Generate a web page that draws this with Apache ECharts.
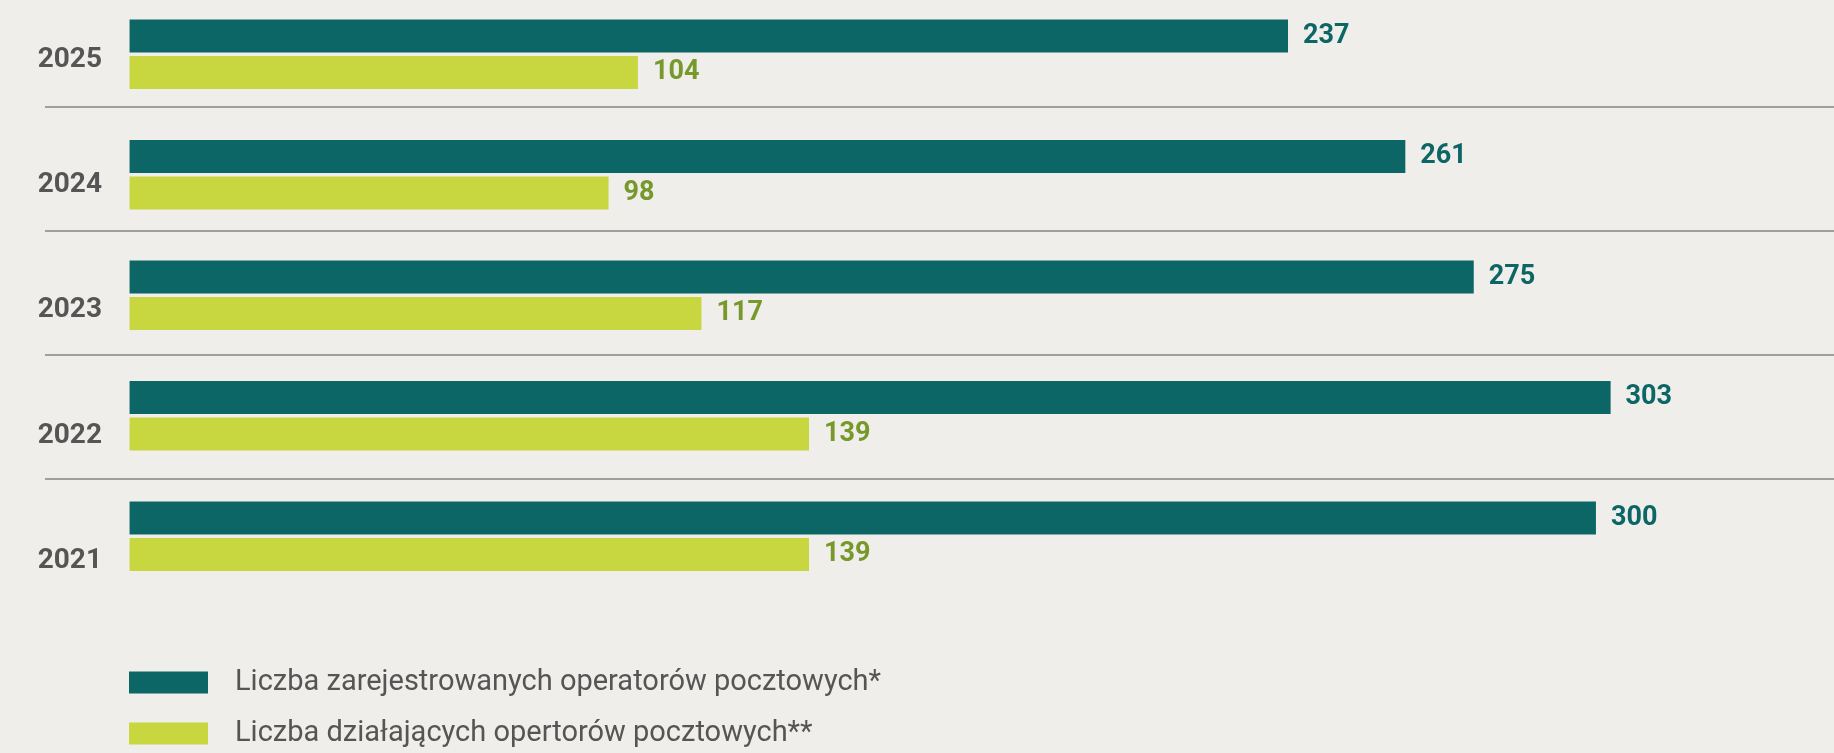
<!DOCTYPE html>
<html>
<head>
<meta charset="utf-8">
<script src="https://cdn.jsdelivr.net/npm/echarts@6/dist/echarts.min.js"></script>
<style>
  html, body { margin: 0; padding: 0; background: #f0eeea; }
  #chart { width: 1834px; height: 753px; }
</style>
</head>
<body>
<div id="chart"></div>
<script>
// dane z wykresu
var lata = ['2025', '2024', '2023', '2022', '2021'];
var zarejestrowani = [237, 261, 275, 303, 300];
var dzialajacy = [104, 98, 117, 139, 139];
var nazwy = ['Liczba zarejestrowanych operatorów pocztowych*', 'Liczba działających opertorów pocztowych**'];

var TEAL = '#0c6666';
var LIME = '#c8d640';
var FONT = 'Roboto, "Noto Sans", sans-serif';

var myChart = echarts.init(document.getElementById('chart'));

var option = {
    backgroundColor: '#f0eeea',
    animation: false,
    legend: {
        orient: 'vertical',
        left: 129,
        top: 668,
        height: 120,
        padding: 0,
        itemWidth: 79,
        itemHeight: 22,
        itemGap: 22,
        icon: 'rect',
        textStyle: {
            fontFamily: FONT,
            fontSize: 29,
            color: '#555555',
            lineHeight: 22,
            padding: [0, 0, 0, 22]
        },
        data: nazwy
    },
    grid: [
        // slupki
        { left: 45, right: 0, top: -6, height: 602.5, outerBoundsMode: 'none' },
        // etykiety lat
        { left: 102, width: 10, top: -3, height: 626.5, outerBoundsMode: 'none' },
        // linie oddzielajace
        { left: 45, right: 0, top: -17.3, height: 620, outerBoundsMode: 'none' }
    ],
    xAxis: [
        { gridIndex: 0, type: 'value', min: -17.3, max: 348.7, show: false },
        { gridIndex: 1, type: 'value', show: false },
        { gridIndex: 2, type: 'value', show: false }
    ],
    yAxis: [
        {
            gridIndex: 0, type: 'category', inverse: true, data: lata,
            axisLine: { show: false }, axisTick: { show: false },
            axisLabel: { show: false }, splitLine: { show: false }
        },
        {
            gridIndex: 1, type: 'category', inverse: true, data: lata,
            axisLine: { show: false }, axisTick: { show: false },
            splitLine: { show: false },
            axisLabel: {
                margin: 0,
                fontFamily: FONT,
                fontSize: 28,
                fontWeight: 'bold',
                color: '#555555'
            }
        },
        {
            gridIndex: 2, type: 'value', min: 0, max: 5, interval: 1,
            axisLine: { show: false }, axisTick: { show: false },
            axisLabel: { show: false },
            splitLine: {
                show: true,
                lineStyle: {
                    width: 2,
                    color: ['rgba(0,0,0,0)', '#a09f9c', '#a09f9c', '#a09f9c', '#a09f9c', 'rgba(0,0,0,0)']
                }
            }
        }
    ],
    series: [
        {
            name: nazwy[0],
            type: 'bar',
            xAxisIndex: 0,
            yAxisIndex: 0,
            barWidth: 33,
            barGap: '10%',
            itemStyle: { color: TEAL },
            label: {
                show: true,
                position: 'right',
                distance: 15,
                fontFamily: FONT,
                fontSize: 27,
                fontWeight: 'bold',
                color: TEAL
            },
            data: zarejestrowani
        },
        {
            name: nazwy[1],
            type: 'bar',
            xAxisIndex: 0,
            yAxisIndex: 0,
            barWidth: 33,
            barGap: '10%',
            itemStyle: { color: LIME },
            label: {
                show: true,
                position: 'right',
                distance: 15,
                fontFamily: FONT,
                fontSize: 27,
                fontWeight: 'bold',
                color: '#77982b'
            },
            data: dzialajacy
        }
    ]
};
myChart.setOption(option);
</script>
</body>
</html>
